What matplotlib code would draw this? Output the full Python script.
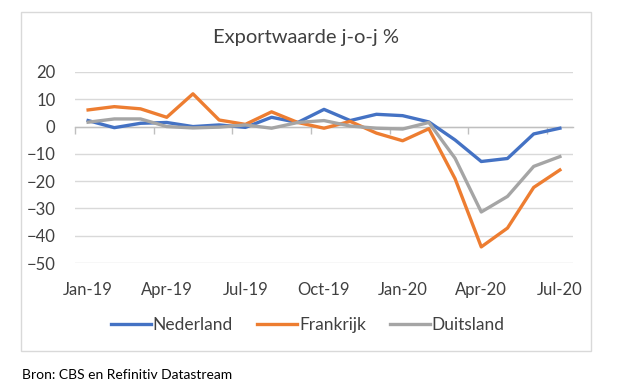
import numpy as np
import matplotlib.pyplot as plt
from matplotlib.patches import Rectangle

# Maanden en exportwaarde j-o-j (%)
maanden = ["Jan-19", "Feb-19", "Mar-19", "Apr-19", "May-19", "Jun-19", "Jul-19",
           "Aug-19", "Sep-19", "Oct-19", "Nov-19", "Dec-19", "Jan-20", "Feb-20",
           "Mar-20", "Apr-20", "May-20", "Jun-20", "Jul-20"]
nederland = [2.2, -0.4, 1.2, 1.5, 0.0, 0.6, -0.3, 3.4, 1.5, 6.3, 2.2, 4.5, 4.0,
             1.7, -4.9, -12.8, -11.7, -2.7, -0.6]
frankrijk = [6.1, 7.3, 6.5, 3.4, 12.0, 2.4, 0.8, 5.4, 1.5, -0.6, 1.9, -2.4, -5.2,
             -0.8, -19.1, -44.1, -37.2, -22.3, -15.9]
duitsland = [1.6, 2.8, 2.8, 0.0, -0.5, -0.2, 0.6, -0.6, 1.5, 2.2, 0.2, -0.6, -0.9,
             1.5, -11.6, -31.3, -25.6, -14.6, -11.0]
series = [("Nederland", nederland, "#4472C4"),
          ("Frankrijk", frankrijk, "#ED7D31"),
          ("Duitsland", duitsland, "#A5A5A5")]

plt.rcParams['font.family'] = ['Lato', 'DejaVu Sans']

fig = plt.figure(figsize=(6.25, 3.89), dpi=100)
ax = fig.add_axes([75 / 625, 1 - 263 / 389, (573 - 75) / 625, (263 - 72) / 389])

x = np.arange(len(maanden))
for naam, waarden, kleur in series:
    ax.plot(x, waarden, color=kleur, lw=2.4, label=naam, solid_joinstyle='round',
            zorder=3)

ymin, ymax = -50, 20
ax.set_ylim(ymin, ymax)
ax.set_xlim(-0.5, len(maanden) - 0.5)
ax.set_yticks(np.arange(-50, 21, 10))
ax.yaxis.grid(True, color="#D9D9D9", lw=1)
ax.set_axisbelow(True)
for s in ax.spines.values():
    s.set_visible(False)

ax.set_xticks(x[::3])
ax.set_xticklabels(maanden[::3])
ax.tick_params(axis='both', length=0, labelsize=12, labelcolor="#404040")
ax.tick_params(axis='x', pad=14)
ax.tick_params(axis='y', pad=14)

# nul-as met tickmarks tussen de categorieen
nul = ax.secondary_xaxis((0 - ymin) / (ymax - ymin))
nul.set_alignment('bottom')
nul.set_xticks(np.arange(-0.5, len(maanden), 3))
nul.set_xticklabels([])
nul.tick_params(length=5, width=1, color="#BFBFBF", direction='out')
nul.spines['bottom'].set_color("#BFBFBF")
nul.spines['bottom'].set_linewidth(1)
nul.set_zorder(2)

fig.text(306 / 625, 1 - 38 / 389, "Exportwaarde j-o-j %", ha='center', va='center',
         fontsize=14.5, color="#404040")

fig.legend(loc='center', bbox_to_anchor=(308 / 625, 1 - 325 / 389), ncol=3,
           frameon=False, fontsize=12.5, handlelength=2.3, handletextpad=0.1,
           columnspacing=1.4, labelcolor="#404040")

fig.patches.append(Rectangle((21 / 625, 1 - 351 / 389), 570 / 625, 339 / 389,
                             transform=fig.transFigure, fill=False,
                             edgecolor="#D9D9D9", lw=1))

fig.text(22 / 625, 1 - 375 / 389, "Bron: CBS en Refinitiv Datastream", ha='left',
         va='center', fontsize=10, color="black")

fig.savefig("out.png", dpi=100)
